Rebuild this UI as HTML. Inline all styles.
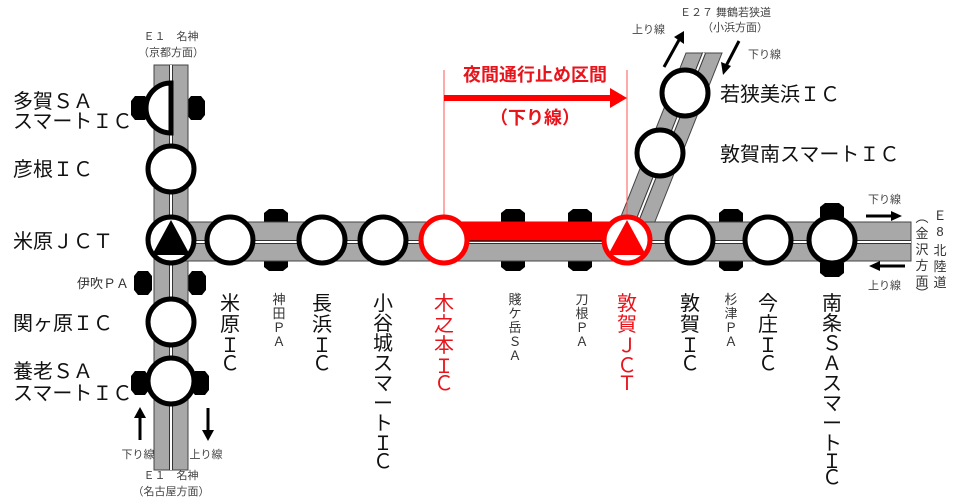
<!DOCTYPE html>
<html><head><meta charset="utf-8"><style>
body{margin:0;background:#fff}
svg{display:block}
text{font-family:"Liberation Sans","Noto Sans CJK JP",sans-serif}
.b{font-size:20px;fill:#111}
.s{font-size:13px;fill:#333}
.t{font-size:11px;fill:#444}
.r{fill:#e8141b}
</style></head><body>
<svg width="960" height="504" viewBox="0 0 960 504" xmlns="http://www.w3.org/2000/svg">
<defs>
<polygon id="tab" points="-5,-12 5,-12 9,-7 9,7 5,12 -5,12 -9,7 -9,-7" fill="#000"/>
<polygon id="tabh" points="-12,-5 -12,5 -7,9 7,9 12,5 12,-5 7,-9 -7,-9" fill="#000"/>
</defs>
<use href="#tab" x="140" y="108"/><use href="#tab" x="196" y="108"/>
<use href="#tab" x="143" y="283"/><use href="#tab" x="197" y="283"/>
<use href="#tab" x="140" y="383"/><use href="#tab" x="200" y="383"/>
<use href="#tabh" x="276" y="218"/><use href="#tabh" x="276" y="262"/>
<use href="#tabh" x="513" y="218"/><use href="#tabh" x="513" y="262"/>
<use href="#tabh" x="580" y="218"/><use href="#tabh" x="580" y="262"/>
<use href="#tabh" x="731" y="218"/><use href="#tabh" x="731" y="262"/>
<use href="#tabh" x="832" y="212"/><use href="#tabh" x="832" y="268"/>
<rect x="154" y="65" width="34" height="405" fill="#a8a8a8" stroke="#444" stroke-width="1"/>
<line x1="169.5" y1="65" x2="169.5" y2="470" stroke="#333" stroke-width="1"/>
<line x1="172.5" y1="65" x2="172.5" y2="470" stroke="#333" stroke-width="1"/>
<line x1="171" y1="65" x2="171" y2="470" stroke="#fff" stroke-width="2"/>
<polygon points="618,224 654,224 722,53 686,53" fill="#a8a8a8" stroke="#444" stroke-width="1"/>
<line x1="636" y1="224" x2="704" y2="53" stroke="#333" stroke-width="4"/>
<line x1="636" y1="224" x2="704" y2="53" stroke="#fff" stroke-width="2"/>
<rect x="171" y="222" width="740" height="39" fill="#a8a8a8" stroke="#444" stroke-width="1"/>
<line x1="171" y1="242" x2="911" y2="242" stroke="#333" stroke-width="4"/>
<line x1="171" y1="242" x2="911" y2="242" stroke="#fff" stroke-width="2"/>
<rect x="444" y="222" width="183" height="19" fill="#f00"/>
<line x1="444" y1="241" x2="627" y2="241" stroke="#300" stroke-width="1.5"/>
<line x1="444" y1="70" x2="444" y2="220" stroke="#f55" stroke-width="1"/>
<line x1="627" y1="70" x2="627" y2="220" stroke="#f55" stroke-width="1"/>
<line x1="444" y1="98" x2="612" y2="98" stroke="#f00" stroke-width="6"/>
<polygon points="610,88 627,98 610,108" fill="#f00"/>
<text x="535" y="81" text-anchor="middle" font-size="18" font-weight="bold" class="r">夜間通行止め区間</text>
<text x="535" y="124" text-anchor="middle" font-size="18" font-weight="bold" class="r">（下り線）</text>
<g fill="#fff" stroke="#000" stroke-width="5">
<path d="M171,83 A25,25 0 0 0 171,133 Z"/>
<circle cx="171" cy="169" r="23"/>
<circle cx="171" cy="240" r="23"/>
<circle cx="171" cy="322" r="23"/>
<circle cx="171" cy="381" r="23"/>
<circle cx="230" cy="240" r="23"/>
<circle cx="322" cy="240" r="23"/>
<circle cx="383" cy="240" r="23"/>
<circle cx="690" cy="240" r="23"/>
<circle cx="768" cy="240" r="23"/>
<circle cx="832" cy="240" r="23"/>
<circle cx="685" cy="93" r="23"/>
<circle cx="660" cy="153" r="23"/>
</g>
<polygon points="171,220 190,255 152,255" fill="#000"/>
<g fill="#fff" stroke="#f00" stroke-width="5">
<circle cx="444" cy="240" r="23"/><circle cx="627" cy="240" r="23"/>
</g>
<polygon points="627,220 646,255 608,255" fill="#f00"/>
<text class="b" x="13" y="108">多賀ＳＡ</text>
<text class="b" x="13" y="128">スマートＩＣ</text>
<text class="b" x="13" y="176">彦根ＩＣ</text>
<text class="b" x="13" y="248">米原ＪＣＴ</text>
<text class="s" x="77" y="288">伊吹ＰＡ</text>
<text class="b" x="13" y="330">関ヶ原ＩＣ</text>
<text class="b" x="13" y="378">養老ＳＡ</text>
<text class="b" x="13" y="400">スマートＩＣ</text>
<text class="t" x="171" y="40" text-anchor="middle">Ｅ１　名神</text>
<text class="t" x="171" y="56" text-anchor="middle">（京都方面）</text>
<text class="t" x="171" y="479" text-anchor="middle">Ｅ１　名神</text>
<text class="t" x="171" y="495" text-anchor="middle">（名古屋方面）</text>
<text class="t" x="138" y="458" text-anchor="middle">下り線</text>
<text class="t" x="206" y="458" text-anchor="middle">上り線</text>
<line x1="140" y1="440" x2="140" y2="416" stroke="#000" stroke-width="3"/><polygon points="134,418 140,407 146,418" fill="#000"/>
<line x1="208" y1="408" x2="208" y2="432" stroke="#000" stroke-width="3"/><polygon points="202,430 208,441 214,430" fill="#000"/>
<text class="t" x="680" y="16">Ｅ２７</text>
<text class="t" x="705" y="16">　舞鶴若狭道</text>
<text class="t" x="735" y="31" text-anchor="middle">（小浜方面）</text>
<text class="t" x="632" y="33">上り線</text>
<text class="t" x="748" y="58">下り線</text>
<line x1="664" y1="67" x2="679" y2="40" stroke="#000" stroke-width="3"/><polygon points="674,37 684,31 684,44" fill="#000"/>
<line x1="739" y1="41" x2="726" y2="66" stroke="#000" stroke-width="3"/><polygon points="721,62 723,75 731,66" fill="#000"/>
<text class="b" x="720" y="101">若狭美浜ＩＣ</text>
<text class="b" x="720" y="161">敦賀南スマートＩＣ</text>
<text class="t" x="868" y="203">下り線</text>
<line x1="866" y1="216" x2="893" y2="216" stroke="#000" stroke-width="3"/><polygon points="891,211 902,216 891,221" fill="#000"/>
<line x1="878" y1="266" x2="905" y2="266" stroke="#000" stroke-width="3"/><polygon points="880,261 869,266 880,271" fill="#000"/>
<text class="t" x="868" y="289">上り線</text>
<g class="s" text-anchor="middle">
<text x="922" y="222">︵</text><text x="922" y="238">金</text><text x="922" y="254">沢</text><text x="922" y="270">方</text><text x="922" y="286">面</text><text x="922" y="298">︶</text>
<text x="940" y="220">Ｅ</text><text x="940" y="236">8</text><text x="940" y="255">北</text><text x="940" y="271">陸</text><text x="940" y="287">道</text>
</g>
<g class="b" text-anchor="middle">
<text x="230" y="310">米</text><text x="230" y="331">原</text><text x="230" y="352">Ｉ</text><text x="230" y="370">Ｃ</text>
<text x="322" y="310">長</text><text x="322" y="331">浜</text><text x="322" y="352">Ｉ</text><text x="322" y="370">Ｃ</text>
<text x="383" y="310">小</text><text x="383" y="330">谷</text><text x="383" y="350">城</text><text x="383" y="370">ス</text><text x="383" y="390">マ</text><text x="383" y="410">ー</text><text x="383" y="430">ト</text><text x="383" y="450">Ｉ</text><text x="383" y="468">Ｃ</text>
<text x="690" y="310">敦</text><text x="690" y="331">賀</text><text x="690" y="352">Ｉ</text><text x="690" y="370">Ｃ</text>
<text x="768" y="310">今</text><text x="768" y="331">庄</text><text x="768" y="352">Ｉ</text><text x="768" y="370">Ｃ</text>
<text x="832" y="310">南</text><text x="832" y="330">条</text><text x="832" y="350">Ｓ</text><text x="832" y="370">Ａ</text><text x="832" y="390">ス</text><text x="832" y="410">マ</text><text x="832" y="430">ー</text><text x="832" y="450">ト</text><text x="832" y="468">Ｉ</text><text x="832" y="484">Ｃ</text>
</g>
<g font-size="20" text-anchor="middle" style="fill:#e8141b">
<text x="444" y="310">木</text><text x="444" y="331">之</text><text x="444" y="352">本</text><text x="444" y="373">Ｉ</text><text x="444" y="390">Ｃ</text>
<text x="627" y="310">敦</text><text x="627" y="331">賀</text><text x="627" y="352">Ｊ</text><text x="627" y="372">Ｃ</text><text x="627" y="390">Ｔ</text>
</g>
<g class="s" text-anchor="middle">
<text x="279" y="304">神</text><text x="279" y="318">田</text><text x="279" y="332">Ｐ</text><text x="279" y="346">Ａ</text>
<text x="515" y="304">賤</text><text x="515" y="318">ケ</text><text x="515" y="332">岳</text><text x="515" y="346">Ｓ</text><text x="515" y="360">Ａ</text>
<text x="582" y="304">刀</text><text x="582" y="318">根</text><text x="582" y="332">Ｐ</text><text x="582" y="346">Ａ</text>
<text x="731" y="304">杉</text><text x="731" y="318">津</text><text x="731" y="332">Ｐ</text><text x="731" y="346">Ａ</text>
</g>
</svg>
</body></html>
